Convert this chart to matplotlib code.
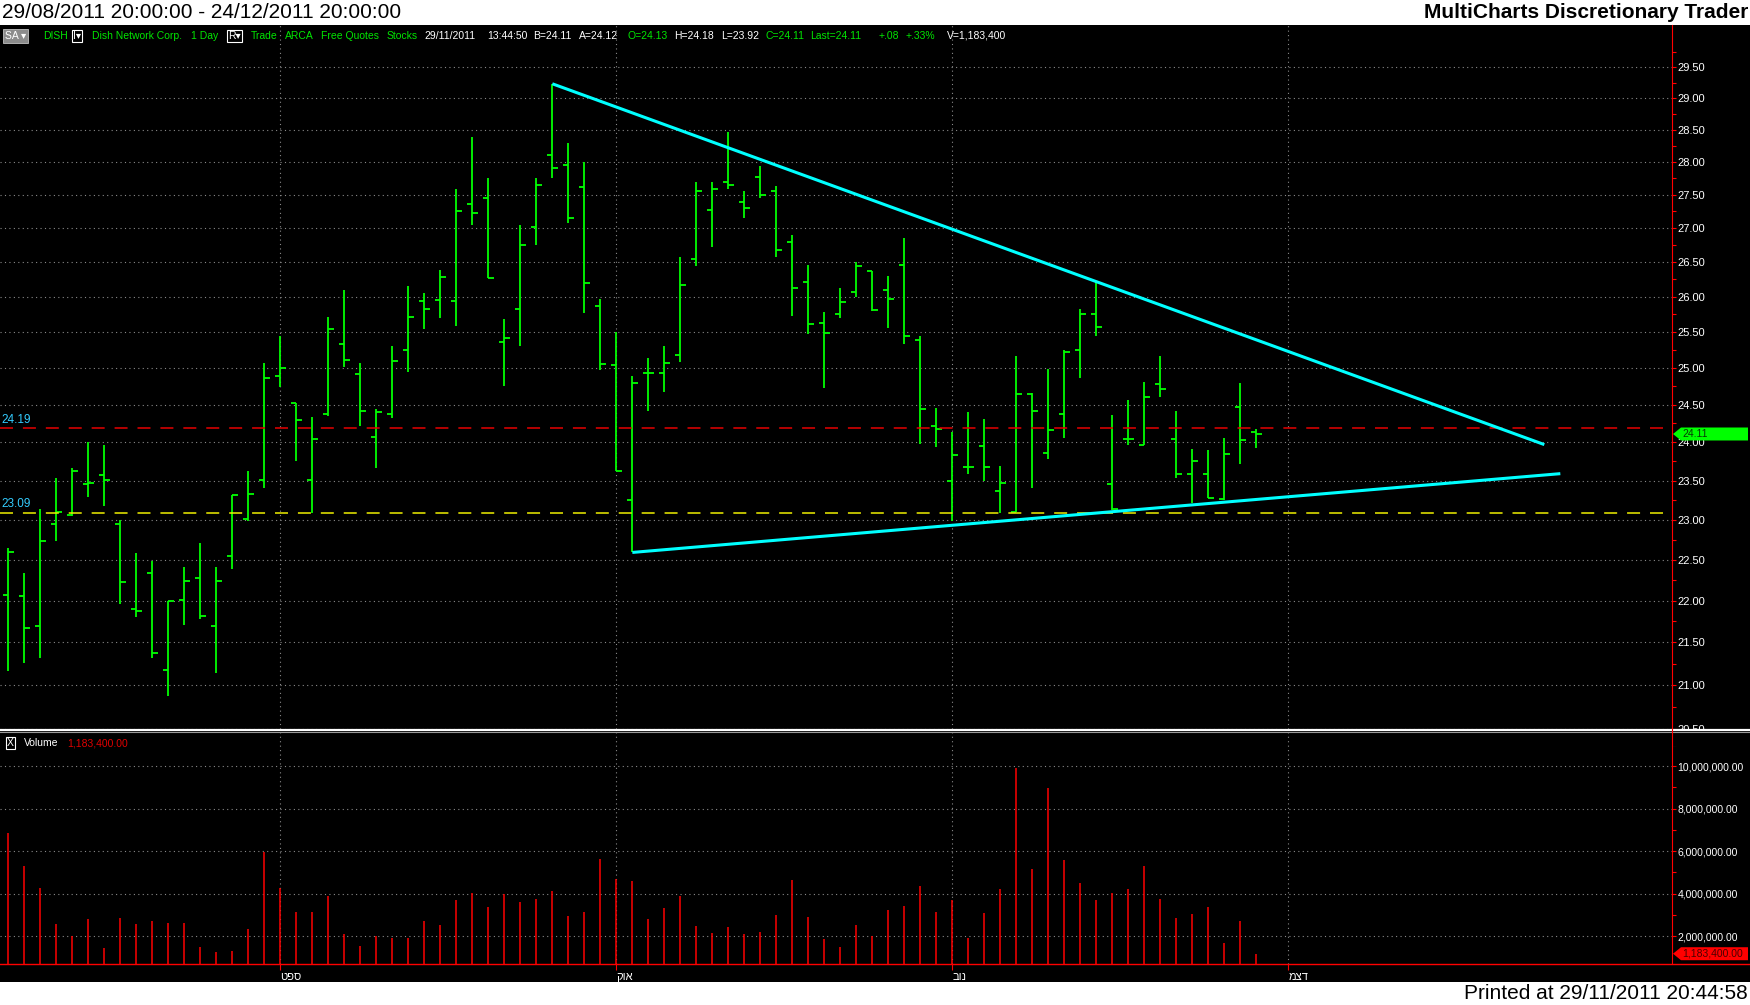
import numpy as np
import matplotlib
matplotlib.use("Agg")
import matplotlib.pyplot as plt
from matplotlib.patches import Rectangle, Polygon
from matplotlib.lines import Line2D
from matplotlib.ticker import FixedLocator, FuncFormatter, NullFormatter

# ---------------- data (daily bars, DISH) ----------------
OPEN = [22.07, 22.05, 21.69, 22.95, 23.06, 23.45, 23.57, 22.95, 21.90, 22.34,
        21.18, 22.01, 22.28, 21.69, 22.55, 23.01, 23.51, 24.89, 24.52, 23.51,
        24.38, 25.33, 24.92, 24.07, 24.38, 25.25, 25.94, 25.96, 25.94, 27.36,
        27.45, 25.36, 25.82, 27.02, 28.11, 27.95, 27.62, 25.87, 25.04, 23.25,
        24.93, 24.93, 25.18, 26.54, 27.27, 27.70, 27.39, 27.77, 27.55, 26.79,
        26.21, 25.63, 25.76, 26.07, 26.37, 26.09, 26.46, 25.39, 24.21, 23.49,
        23.68, 23.95, 23.36, 23.10, 24.64, 23.86, 24.38, 25.25, 25.75, 23.45,
        24.04, 23.96, 24.78, 24.04, 23.59, 23.59, 23.26, 24.47, 24.13]
HIGH = [22.64, 22.33, 23.14, 23.53, 23.66, 24.01, 23.97, 23.00, 22.58, 22.48,
        22.00, 22.41, 22.71, 22.41, 23.32, 23.63, 25.07, 25.44, 24.52, 24.34,
        25.71, 26.09, 25.07, 24.44, 25.30, 26.15, 26.05, 26.39, 27.59, 28.38,
        27.76, 25.68, 27.05, 27.76, 29.23, 28.30, 28.00, 25.97, 25.50, 24.89,
        25.14, 25.30, 26.58, 27.70, 27.70, 28.47, 27.56, 27.94, 27.63, 26.90,
        26.46, 25.78, 26.12, 26.50, 26.37, 26.30, 26.86, 25.44, 24.46, 24.14,
        24.40, 24.31, 23.69, 25.16, 24.66, 24.99, 25.25, 25.82, 26.21, 24.36,
        24.57, 24.81, 25.17, 24.42, 23.91, 23.90, 24.06, 24.79, 24.18]
LOW = [21.16, 21.26, 21.32, 22.73, 23.05, 23.29, 23.17, 21.96, 21.80, 21.32,
       20.87, 21.71, 21.78, 21.14, 22.39, 22.98, 23.41, 24.74, 23.76, 23.09,
       24.35, 25.02, 24.21, 23.66, 24.32, 24.95, 25.54, 25.70, 25.58, 27.04,
       26.27, 24.76, 25.30, 26.75, 27.75, 27.08, 25.77, 24.97, 23.62, 22.59,
       24.42, 24.68, 25.09, 26.44, 26.72, 27.59, 27.15, 27.45, 26.58, 25.73,
       25.47, 24.73, 25.70, 26.00, 25.79, 25.56, 25.34, 23.98, 23.94, 22.99,
       23.59, 23.50, 23.09, 23.10, 23.41, 23.78, 24.06, 24.86, 25.45, 23.12,
       23.97, 23.96, 24.61, 23.54, 23.21, 23.28, 23.25, 23.72, 23.92]
CLOSE = [22.60, 21.67, 22.73, 23.10, 23.63, 23.47, 23.51, 22.22, 21.87, 21.37,
         21.99, 22.24, 21.82, 22.24, 23.32, 23.33, 24.86, 25.00, 24.30, 24.05,
         25.54, 25.11, 24.42, 24.40, 25.10, 25.71, 25.82, 26.29, 27.26, 27.23,
         26.27, 25.41, 26.75, 27.64, 27.91, 27.15, 26.19, 25.06, 23.62, 24.80,
         24.93, 25.07, 26.17, 27.56, 27.58, 27.64, 27.30, 27.50, 26.68, 26.13,
         25.61, 25.49, 25.92, 26.44, 25.81, 25.97, 25.44, 24.44, 24.17, 23.83,
         23.68, 23.67, 23.47, 24.65, 24.42, 24.16, 25.22, 25.76, 25.57, 23.13,
         24.04, 24.61, 24.72, 23.59, 23.76, 23.28, 23.84, 24.03, 24.11]
VOLUME_M = [6.86, 5.31, 4.27, 2.58, 2.02, 2.82, 1.45, 2.86, 2.58, 2.72,
            2.63, 2.63, 1.50, 1.26, 1.31, 2.35, 5.97, 4.27, 3.15, 3.15,
            3.90, 2.11, 1.55, 2.02, 1.92, 1.92, 2.72, 2.53, 3.71, 4.04,
            3.38, 3.99, 3.62, 3.76, 4.13, 2.96, 3.15, 5.64, 4.70, 4.60,
            2.82, 3.33, 3.90, 2.49, 2.16, 2.44, 2.11, 2.20, 3.00, 4.65,
            2.91, 1.87, 1.50, 2.53, 2.02, 3.24, 3.43, 4.37, 3.15, 3.71,
            1.92, 3.10, 4.23, 9.92, 5.17, 8.98, 5.60, 4.51, 3.71, 4.04,
            4.23, 5.31, 3.76, 2.86, 3.05, 3.38, 1.69, 2.72, 1.1834]

MONTH_POS = [17, 38, 59, 80]
MONTH_LABELS = ["ספט", "אוק", "נוב", "דצמ"]
RESIST = 24.19
SUPPORT = 23.09
TREND_HI_X = [34, 96]
TREND_HI_Y = [29.23, 23.97]
TREND_LO_X = [39, 97]
TREND_LO_Y = [22.59, 23.59]
LAST_PRICE = 24.11
LAST_VOL = 1183400
PRICE_TICKS = [20.5, 21.0, 21.5, 22.0, 22.5, 23.0, 23.5, 24.0, 24.5, 25.0,
               25.5, 26.0, 26.5, 27.0, 27.5, 28.0, 28.5, 29.0, 29.5]
VOL_TICKS = [2e6, 4e6, 6e6, 8e6, 10e6]

STATUS = [("SA \u25be", "white"), ("DISH", "g"), ("I\u25be", "white"),
          ("Dish Network Corp.", "g"), ("1 Day", "g"), ("R\u25be", "white"),
          ("Trade", "g"), ("ARCA", "g"), ("Free Quotes", "g"), ("Stocks", "g"),
          ("29/11/2011", "white"), ("13:44:50", "white"), ("B=24.11", "white"),
          ("A=24.12", "white"), ("O=24.13", "g"), ("H=24.18", "white"),
          ("L=23.92", "white"), ("C=24.11", "g"), ("Last=24.11", "g"),
          ("+.08", "g"), ("+.33%", "g"), ("V=1,183,400", "white")]
STATUS_X = [5, 43, 73, 92, 191, 228, 251, 285, 321, 387, 424, 487, 533,
            579, 628, 674, 721, 765, 810, 879, 906, 947]

# ---------------- style ----------------
plt.rcParams["font.family"] = ["Liberation Sans", "DejaVu Sans"]
GREEN = "#00FF00"
TXT_GREEN = "#00E600"
RED = "#FF0000"
CYAN = "#00FFFF"
W, H = 1750, 1005


def fx(px):
    return px / W


def fy(py):
    return 1 - py / H


fig = plt.figure(figsize=(W / 100, H / 100), dpi=100, facecolor="black")
fig.add_artist(Rectangle((0, fy(25)), 1, 25 / H, transform=fig.transFigure,
                         facecolor="white", edgecolor="none", zorder=0))
fig.add_artist(Rectangle((0, 0), 1, (H - 982) / H, transform=fig.transFigure,
                         facecolor="white", edgecolor="none", zorder=0))

x = np.arange(len(CLOSE))
XLIM = (-0.52, 103.98)

# ---------------- price panel ----------------
ax = fig.add_axes([0, fy(729), fx(1672), (729 - 25) / H])
ax.set_facecolor("black")
ax.vlines(x, LOW, HIGH, color=GREEN, lw=1.3)
ax.hlines(OPEN, x - 0.34, x, color=GREEN, lw=1.3)
ax.hlines(CLOSE, x, x + 0.34, color=GREEN, lw=1.3)
ax.axhline(RESIST, color="#E60000", lw=1.1, ls=(0, (8.5, 6.5)))
ax.axhline(SUPPORT, color="#F0F000", lw=1.1, ls=(0, (8.5, 6.5)))
ax.plot(TREND_HI_X, TREND_HI_Y, color=CYAN, lw=2.2, solid_capstyle="butt")
ax.plot(TREND_LO_X, TREND_LO_Y, color=CYAN, lw=2.2, solid_capstyle="butt")
ytr = ax.get_yaxis_transform()
ax.text(0.001, RESIST * 1.0012, f"{RESIST:.2f}", transform=ytr, color="#33CCFF",
        fontsize=8.5, va="bottom", ha="left")
ax.text(0.001, SUPPORT * 1.0012, f"{SUPPORT:.2f}", transform=ytr, color="#33CCFF",
        fontsize=8.5, va="bottom", ha="left")

ax.set_yscale("log")
ax.set_xlim(*XLIM)
ax.set_ylim(20.50, 30.19)
ax.yaxis.set_major_locator(FixedLocator(PRICE_TICKS))
ax.yaxis.set_minor_locator(FixedLocator([t + 0.25 for t in PRICE_TICKS]))
ax.yaxis.set_major_formatter(FuncFormatter(lambda v, p: f"{v:.2f}"))
ax.yaxis.set_minor_formatter(NullFormatter())
ax.yaxis.tick_right()
ax.tick_params(axis="y", which="both", colors=RED, labelcolor="white",
               direction="out", labelsize=8, pad=1)
ax.tick_params(axis="y", which="major", length=3, width=0.8)
ax.tick_params(axis="y", which="minor", length=3, width=0.8)
ax.set_xticks(MONTH_POS)
ax.tick_params(axis="x", length=0, labelbottom=False)
ax.grid(True, which="major", color="#8a8a8a", linestyle=(0, (1, 3)), lw=0.8)
for s in ax.spines.values():
    s.set_visible(False)

# ---------------- volume panel ----------------
axv = fig.add_axes([0, fy(964), fx(1672), (964 - 732) / H])
axv.set_facecolor("black")
axv.vlines(x, 0, [v * 1e6 for v in VOLUME_M], color=RED, lw=1.1)
axv.set_xlim(*XLIM)
axv.set_ylim(0.70e6, 11.6e6)
axv.yaxis.set_major_locator(FixedLocator(VOL_TICKS))
axv.yaxis.set_minor_locator(FixedLocator([t + 1e6 for t in VOL_TICKS]))
axv.yaxis.set_major_formatter(FuncFormatter(lambda v, p: f"{v:,.2f}"))
axv.yaxis.tick_right()
axv.tick_params(axis="y", which="both", colors=RED, labelcolor="white",
                direction="out", labelsize=7.5, pad=1)
axv.tick_params(axis="y", which="major", length=3, width=0.8)
axv.tick_params(axis="y", which="minor", length=3, width=0.8)
axv.set_xticks(MONTH_POS)
axv.set_xticklabels([m[::-1] for m in MONTH_LABELS])
axv.tick_params(axis="x", colors=RED, labelcolor="white", direction="out",
                length=4, width=0.8, labelsize=8, pad=2)
for lbl in axv.get_xticklabels():
    lbl.set_ha("left")
axv.grid(True, which="major", color="#8a8a8a", linestyle=(0, (1, 3)), lw=0.8)
for s in axv.spines.values():
    s.set_visible(False)

# ---------------- frame lines ----------------
fig.add_artist(Rectangle((fx(1673), fy(746)), fx(77), 16 / H, transform=fig.transFigure,
                         facecolor="black", edgecolor="none", zorder=3))
fig.add_artist(Line2D([0, 1], [fy(730.2)] * 2, transform=fig.transFigure,
                      color="white", lw=1.6, zorder=4))
fig.add_artist(Line2D([0, 1], [fy(731.8)] * 2, transform=fig.transFigure,
                      color="#9a9a9a", lw=0.8, zorder=4))
fig.add_artist(Line2D([fx(1672)] * 2, [fy(25), fy(964)], transform=fig.transFigure,
                      color=RED, lw=0.8, zorder=4))
fig.add_artist(Line2D([0, 1], [fy(964)] * 2, transform=fig.transFigure,
                      color=RED, lw=1.0, zorder=4))


def axis_tag(axis, value, text, face, tcolor):
    yf = axis.transData.transform((0, value))[1] / H
    h = 6.5 / H
    verts = [(fx(1673), yf), (fx(1681), yf + h), (fx(1748), yf + h),
             (fx(1748), yf - h), (fx(1681), yf - h)]
    fig.add_artist(Polygon(verts, closed=True, transform=fig.transFigure,
                           facecolor=face, edgecolor="none", zorder=5))
    fig.text(fx(1682), yf, text, color=tcolor, fontsize=7.5, va="center",
             ha="left", zorder=6)


axis_tag(ax, LAST_PRICE, f"{LAST_PRICE:.2f}", "#00FF00", "#063806")
axis_tag(axv, LAST_VOL, f"{LAST_VOL:,.2f}", "#FF0000", "#4a0000")

# ---------------- texts ----------------
fig.text(fx(2), fy(12), "29/08/2011 20:00:00 - 24/12/2011 20:00:00",
         color="black", fontsize=15, va="center", ha="left")
fig.text(fx(1748), fy(12), "MultiCharts Discretionary Trader",
         color="black", fontsize=15, weight="bold", va="center", ha="right")
fig.text(fx(1748), fy(993), "Printed at 29/11/2011 20:44:58",
         color="black", fontsize=15, va="center", ha="right")

for (txt, col), px in zip(STATUS, STATUS_X):
    kw = {}
    if txt.startswith("SA"):
        kw["bbox"] = dict(facecolor="#8c8c8c", edgecolor="#c0c0c0", pad=1.2, lw=0.6)
    elif txt.endswith("\u25be"):
        kw["bbox"] = dict(facecolor="black", edgecolor="white", pad=1.0, lw=0.8)
    fig.text(fx(px), fy(36), txt, color=TXT_GREEN if col == "g" else col,
             fontsize=7.5, va="center", ha="left", zorder=6, **kw)

fig.text(fx(7), fy(743), "X", color="white", fontsize=7.5, va="center", ha="left",
         bbox=dict(facecolor="black", edgecolor="white", pad=0.8, lw=0.8), zorder=6)
fig.text(fx(24), fy(743), "Volume", color="white", fontsize=7.5, va="center",
         ha="left", zorder=6)
fig.text(fx(67), fy(743), f"{LAST_VOL:,.2f}", color="#E00000", fontsize=7.5,
         va="center", ha="left", zorder=6)

fig.savefig("out.png", dpi=100, facecolor="black")
